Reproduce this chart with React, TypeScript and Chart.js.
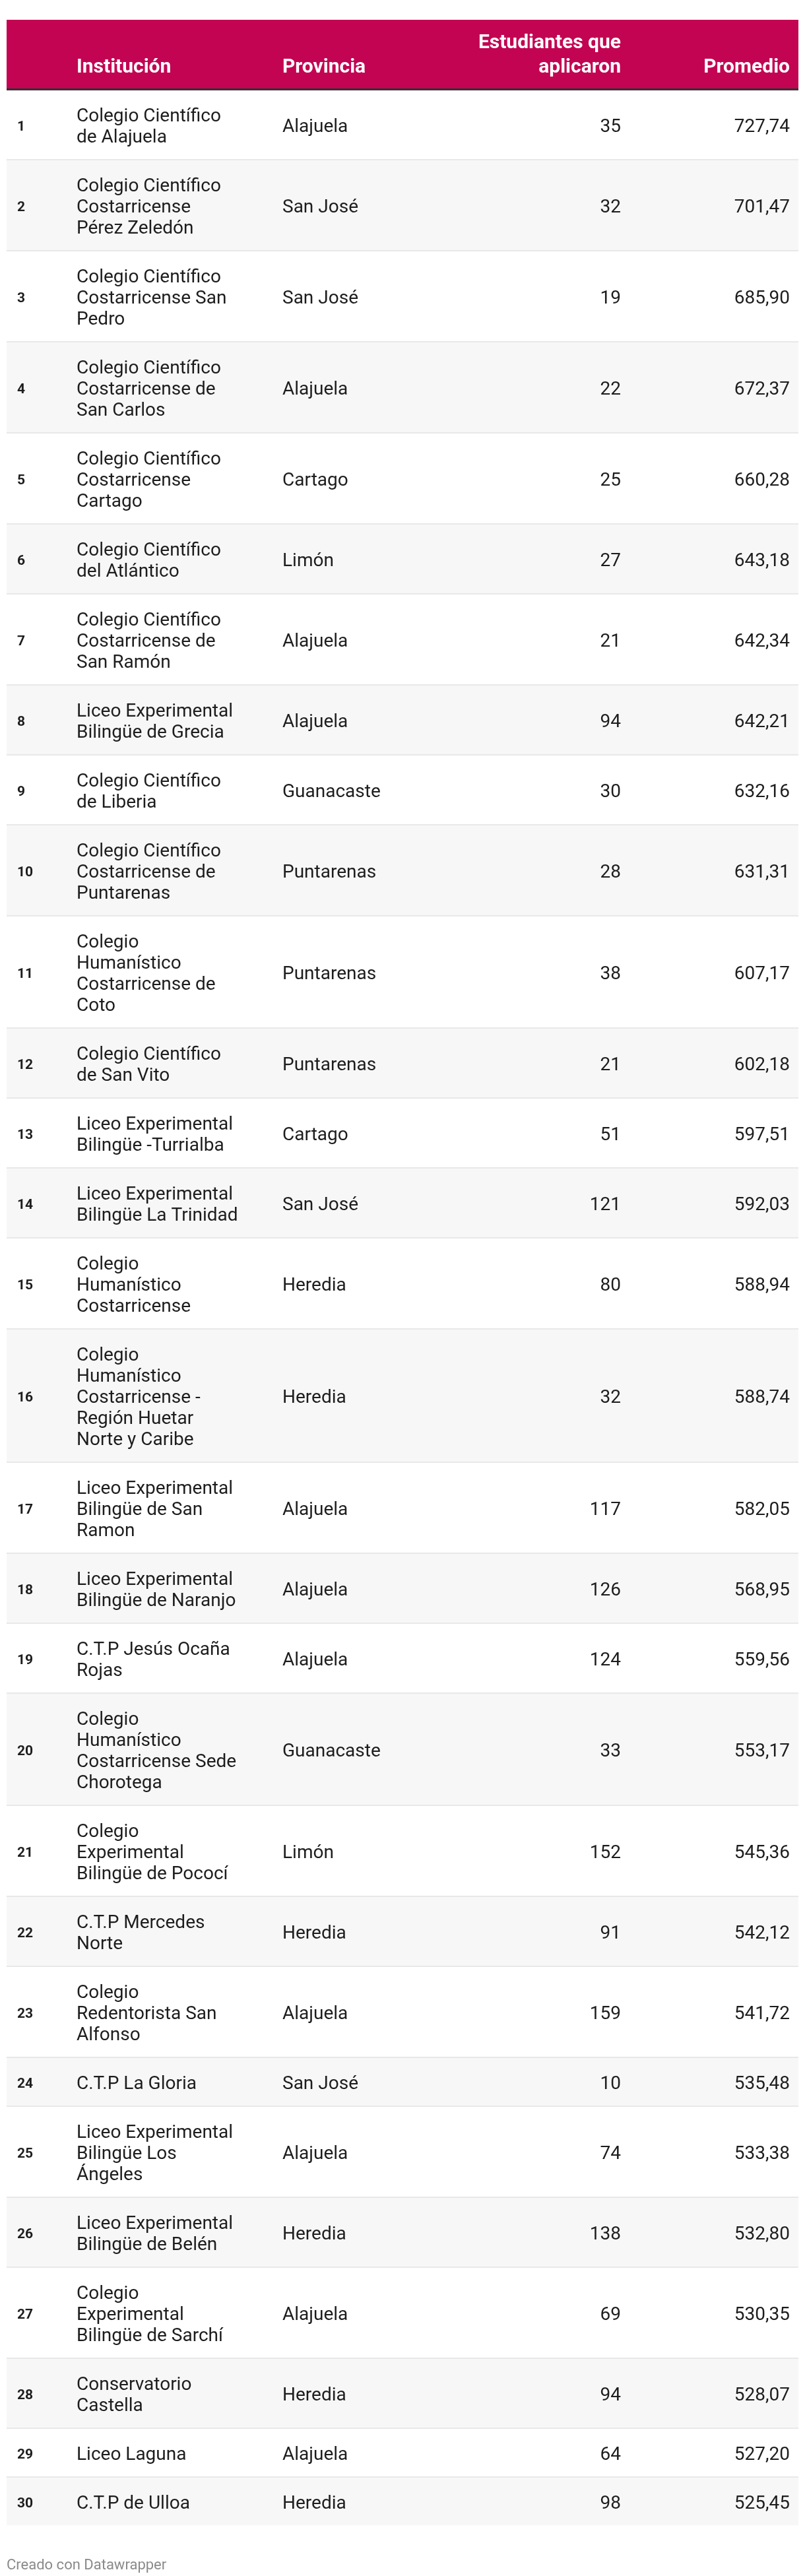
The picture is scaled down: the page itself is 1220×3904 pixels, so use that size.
import React, { useEffect, useRef } from "react";
import { Chart, registerables } from "chart.js";

Chart.register(...registerables);

// ---------- DATA ----------
const ranks = [1, 2, 3, 4, 5, 6, 7, 8, 9, 10, 11, 12, 13, 14, 15, 16, 17, 18, 19, 20, 21, 22, 23, 24, 25, 26, 27, 28, 29, 30];

const institutions = [
  "Colegio Científico\nde Alajuela",
  "Colegio Científico\nCostarricense\nPérez Zeledón",
  "Colegio Científico\nCostarricense San\nPedro",
  "Colegio Científico\nCostarricense de\nSan Carlos",
  "Colegio Científico\nCostarricense\nCartago",
  "Colegio Científico\ndel Atlántico",
  "Colegio Científico\nCostarricense de\nSan Ramón",
  "Liceo Experimental\nBilingüe de Grecia",
  "Colegio Científico\nde Liberia",
  "Colegio Científico\nCostarricense de\nPuntarenas",
  "Colegio\nHumanístico\nCostarricense de\nCoto",
  "Colegio Científico\nde San Vito",
  "Liceo Experimental\nBilingüe -Turrialba",
  "Liceo Experimental\nBilingüe La Trinidad",
  "Colegio\nHumanístico\nCostarricense",
  "Colegio\nHumanístico\nCostarricense -\nRegión Huetar\nNorte y Caribe",
  "Liceo Experimental\nBilingüe de San\nRamon",
  "Liceo Experimental\nBilingüe de Naranjo",
  "C.T.P Jesús Ocaña\nRojas",
  "Colegio\nHumanístico\nCostarricense Sede\nChorotega",
  "Colegio\nExperimental\nBilingüe de Pococí",
  "C.T.P Mercedes\nNorte",
  "Colegio\nRedentorista San\nAlfonso",
  "C.T.P La Gloria",
  "Liceo Experimental\nBilingüe Los\nÁngeles",
  "Liceo Experimental\nBilingüe de Belén",
  "Colegio\nExperimental\nBilingüe de Sarchí",
  "Conservatorio\nCastella",
  "Liceo Laguna",
  "C.T.P de Ulloa",
];

const provinces = [
  "Alajuela", "San José", "San José", "Alajuela", "Cartago", "Limón", "Alajuela", "Alajuela", "Guanacaste", "Puntarenas",
  "Puntarenas", "Puntarenas", "Cartago", "San José", "Heredia", "Heredia", "Alajuela", "Alajuela", "Alajuela", "Guanacaste",
  "Limón", "Heredia", "Alajuela", "San José", "Alajuela", "Heredia", "Alajuela", "Heredia", "Alajuela", "Heredia",
];

const students = [35, 32, 19, 22, 25, 27, 21, 94, 30, 28, 38, 21, 51, 121, 80, 32, 117, 126, 124, 33, 152, 91, 159, 10, 74, 138, 69, 94, 64, 98];

const averages = [
  727.74, 701.47, 685.9, 672.37, 660.28, 643.18, 642.34, 642.21, 632.16, 631.31,
  607.17, 602.18, 597.51, 592.03, 588.94, 588.74, 582.05, 568.95, 559.56, 553.17,
  545.36, 542.12, 541.72, 535.48, 533.38, 532.8, 530.35, 528.07, 527.2, 525.45,
];

const headerLabels = ["", "Institución", "Provincia", "Estudiantes que\naplicaron", "Promedio"];
const footerText = "Creado con Datawrapper";

// ---------- STYLE ----------
const W = 1220;
const H = 3904;
const FONT = "Roboto, 'Noto Sans', sans-serif";
const HEADER_BG = "#c20452";
const HEADER_RULE = "#333333";
const STRIPE = "#f7f7f7";
const SEP = "#e8e8e8";
const TEXT = "#1d1d1d";
const FOOT = "#8a8a8a";

const TABLE_L = 10;
const TABLE_R = 1210;
const HEAD_TOP = 30;
const HEAD_BOT = 134;
const RULE_H = 3;
const LINE_H = 32;
const ROW_PAD = 40;
const SEP_H = 2;

const COL_RANK_X = 26;
const COL_INST_X = 116;
const COL_PROV_X = 428;
const COL_STUD_R = 941;
const COL_AVG_R = 1197;

const fmtAvg = (v: number) => v.toFixed(2).replace(".", ",");

const tablePlugin = {
  id: "tablePlugin",
  beforeDraw(chart: any) {
    const ctx: CanvasRenderingContext2D = chart.ctx;
    const xs = chart.scales.x;
    const ys = chart.scales.y;
    const X = (v: number) => xs.getPixelForValue(v);
    const Y = (v: number) => ys.getPixelForValue(v);

    ctx.save();
    ctx.fillStyle = "#ffffff";
    ctx.fillRect(0, 0, chart.width, chart.height);

    // header band
    ctx.fillStyle = HEADER_BG;
    ctx.fillRect(X(TABLE_L), Y(HEAD_TOP), X(TABLE_R) - X(TABLE_L), Y(HEAD_BOT) - Y(HEAD_TOP));
    ctx.fillStyle = HEADER_RULE;
    ctx.fillRect(X(TABLE_L), Y(HEAD_BOT), X(TABLE_R) - X(TABLE_L), Y(HEAD_BOT + RULE_H) - Y(HEAD_BOT));

    // header labels (bottom aligned)
    ctx.fillStyle = "#ffffff";
    ctx.font = `bold 30px ${FONT}`;
    ctx.textBaseline = "alphabetic";
    const headBase = 110;
    const headLH = 37;
    const headX = [COL_RANK_X, COL_INST_X, COL_PROV_X, COL_STUD_R, COL_AVG_R];
    const headAlign: CanvasTextAlign[] = ["left", "left", "left", "right", "right"];
    headerLabels.forEach((lab, i) => {
      if (!lab) return;
      const parts = lab.split("\n");
      ctx.textAlign = headAlign[i];
      parts.forEach((p, k) => {
        const yb = headBase - (parts.length - 1 - k) * headLH;
        ctx.fillText(p, X(headX[i]), Y(yb));
      });
    });

    // rows
    let top = HEAD_BOT + RULE_H;
    institutions.forEach((inst, i) => {
      const lines = inst.split("\n");
      const h = ROW_PAD + LINE_H * lines.length;
      const bg = i % 2 === 1 ? STRIPE : "#ffffff";
      ctx.fillStyle = bg;
      ctx.fillRect(X(TABLE_L), Y(top), X(TABLE_R) - X(TABLE_L), Y(top + h) - Y(top));
      if (i < institutions.length - 1) {
        ctx.fillStyle = SEP;
        ctx.fillRect(X(TABLE_L), Y(top + h), X(TABLE_R) - X(TABLE_L), Y(top + h + SEP_H) - Y(top + h));
      }
      const center = top + h / 2;
      const firstBase = center - (LINE_H * lines.length) / 2 + 27;

      // rank
      ctx.fillStyle = TEXT;
      ctx.font = `bold 21px ${FONT}`;
      ctx.textAlign = "left";
      ctx.fillText(String(ranks[i]), X(COL_RANK_X), Y(center + 9));

      // institution
      ctx.font = `28px ${FONT}`;
      lines.forEach((ln, k) => {
        ctx.fillText(ln, X(COL_INST_X), Y(firstBase + k * LINE_H));
      });

      // province
      ctx.fillText(provinces[i], X(COL_PROV_X), Y(center + 11));

      // numbers
      ctx.textAlign = "right";
      ctx.fillText(String(students[i]), X(COL_STUD_R), Y(center + 11));
      ctx.fillText(fmtAvg(averages[i]), X(COL_AVG_R), Y(center + 11));

      top += h + SEP_H;
    });

    // footer
    ctx.fillStyle = FOOT;
    ctx.font = `22px ${FONT}`;
    ctx.textAlign = "left";
    ctx.fillText(footerText, X(TABLE_L), Y(3894));

    ctx.restore();
  },
};

export default function App() {
  const ref = useRef<HTMLCanvasElement | null>(null);

  useEffect(() => {
    if (!ref.current) return;
    const chart = new Chart(ref.current, {
      type: "scatter",
      data: {
        datasets: [
          {
            label: "Promedio",
            data: [],
          },
        ],
      },
      options: {
        animation: false,
        responsive: false,
        maintainAspectRatio: false,
        devicePixelRatio: 1,
        layout: { padding: 0 },
        plugins: {
          legend: { display: false },
          tooltip: { enabled: false },
          title: { display: false },
        },
        scales: {
          x: { type: "linear", min: 0, max: W, display: false },
          y: { type: "linear", min: 0, max: H, reverse: true, display: false },
        },
        events: [],
      },
      plugins: [tablePlugin],
    });
    return () => chart.destroy();
  }, []);

  return (
    <div style={{ position: "absolute", left: 0, top: 0, width: W, height: H, background: "#fff" }}>
      <canvas ref={ref} width={W} height={H} style={{ display: "block", width: W, height: H }} />
    </div>
  );
}
